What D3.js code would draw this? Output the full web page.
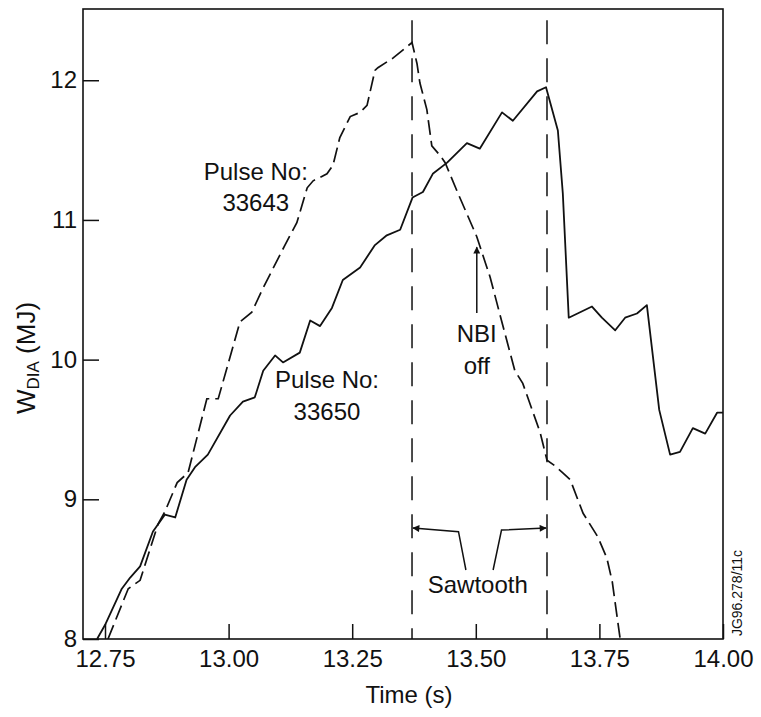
<!DOCTYPE html>
<html>
<head>
<meta charset="utf-8">
<script src="https://cdn.jsdelivr.net/npm/d3@7"></script>
<style>
  body { margin: 0; background: #fff; }
  svg text { font-family: "Liberation Sans", Arial, Helvetica, sans-serif; fill: #111; }
  .tick line { stroke: #111; stroke-width: 1.5; }
  .tick text { font-size: 24px; }
</style>
</head>
<body>
<div id="chart"></div>
<script>
// pulse 33650 (solid)
const t33650 = [12.734, 12.750, 12.784, 12.801, 12.821, 12.847, 12.861, 12.871, 12.892, 12.915,
    12.932, 12.958, 13.003, 13.029, 13.053, 13.070, 13.094, 13.110, 13.144, 13.165,
    13.185, 13.209, 13.231, 13.266, 13.296, 13.320, 13.347, 13.372, 13.393, 13.413,
    13.442, 13.482, 13.508, 13.553, 13.575, 13.624, 13.642, 13.666, 13.676, 13.688,
    13.735, 13.755, 13.782, 13.802, 13.826, 13.846, 13.871, 13.893, 13.913, 13.939,
    13.964, 13.988, 14.000]
const w33650 = [8.00, 8.10, 8.36, 8.44, 8.52, 8.77, 8.84, 8.89, 8.87, 9.14,
    9.23, 9.32, 9.60, 9.70, 9.73, 9.92, 10.03, 9.98, 10.05, 10.28,
    10.24, 10.37, 10.57, 10.66, 10.82, 10.89, 10.93, 11.16, 11.20, 11.33,
    11.41, 11.55, 11.51, 11.77, 11.71, 11.92, 11.95, 11.64, 11.19, 10.30,
    10.38, 10.30, 10.21, 10.30, 10.33, 10.39, 9.64, 9.32, 9.34, 9.51,
    9.47, 9.62, 9.62]

// pulse 33643 (dashed)
const t33643 = [12.756, 12.797, 12.821, 12.857, 12.871, 12.896, 12.918, 12.956, 12.979, 13.023,
    13.047, 13.068, 13.114, 13.138, 13.159, 13.171, 13.199, 13.211, 13.225, 13.246,
    13.266, 13.280, 13.296, 13.302, 13.333, 13.371, 13.381, 13.387, 13.401, 13.411,
    13.428, 13.438, 13.464, 13.502, 13.529, 13.549, 13.579, 13.595, 13.630, 13.644,
    13.660, 13.676, 13.691, 13.717, 13.747, 13.765, 13.776, 13.792]
const w33643 = [8.00, 8.36, 8.42, 8.82, 8.91, 9.12, 9.19, 9.72, 9.72, 10.27,
    10.34, 10.50, 10.82, 10.98, 11.23, 11.28, 11.33, 11.39, 11.59, 11.74,
    11.77, 11.82, 12.07, 12.09, 12.16, 12.27, 12.12, 11.98, 11.79, 11.53,
    11.46, 11.41, 11.19, 10.88, 10.59, 10.32, 9.92, 9.83, 9.48, 9.28,
    9.24, 9.19, 9.14, 8.90, 8.73, 8.58, 8.41, 8.00]

const xTicks = [12.75, 13.00, 13.25, 13.50, 13.75, 14.00]
const yTicks = [8, 9, 10, 11, 12]
const sawtoothTimes = [13.371, 13.644]

const WIDTH = 761, HEIGHT = 717
const M = { top: 9, right: 38, bottom: 78, left: 83 }
const innerW = WIDTH - M.left - M.right
const innerH = HEIGHT - M.top - M.bottom

const svg = d3.select('#chart').append('svg')
    .attr('width', WIDTH)
    .attr('height', HEIGHT)

const defs = svg.append('defs')
defs.append('clipPath').attr('id', 'plot-clip')
    .append('rect').attr('width', innerW).attr('height', innerH)
defs.append('marker')
    .attr('id', 'head')
    .attr('viewBox', '0 0 10 10')
    .attr('refX', 9).attr('refY', 5)
    .attr('markerWidth', 9).attr('markerHeight', 7)
    .attr('markerUnits', 'userSpaceOnUse')
    .attr('orient', 'auto')
    .append('path').attr('d', 'M0,0 L10,5 L0,10 Z').attr('fill', '#111')

const g = svg.append('g').attr('transform', `translate(${M.left},${M.top})`)

const x = d3.scaleLinear().domain([12.7055, 14.0]).range([0, innerW])
const y = d3.scaleLinear().domain([8, 12.51]).range([innerH, 0])

// axes, ticks point inward
g.append('g')
    .attr('transform', `translate(0,${innerH})`)
    .call(d3.axisBottom(x).tickValues(xTicks).tickFormat(d3.format('.2f'))
        .tickSizeInner(-15).tickSizeOuter(0).tickPadding(11))
    .call(a => a.select('.domain').remove())

g.append('g')
    .call(d3.axisLeft(y).tickValues(yTicks).tickFormat(d3.format('d'))
        .tickSizeInner(-16).tickSizeOuter(0).tickPadding(6))
    .call(a => a.select('.domain').remove())

g.append('rect')
    .attr('width', innerW).attr('height', innerH)
    .attr('fill', 'none').attr('stroke', '#111').attr('stroke-width', 1.6)

// sawtooth markers
g.selectAll('.saw-line')
    .data(sawtoothTimes)
    .join('line')
    .attr('class', 'saw-line')
    .attr('x1', d => x(d)).attr('x2', d => x(d))
    .attr('y1', y(12.43)).attr('y2', y(8))
    .attr('stroke', '#111').attr('stroke-width', 1.5)
    .attr('stroke-dasharray', '24,14')

const line = d3.line().x(d => x(d[0])).y(d => y(d[1]))
const plot = g.append('g').attr('clip-path', 'url(#plot-clip)')

plot.append('path')
    .datum(d3.zip(t33650, w33650))
    .attr('d', line)
    .attr('fill', 'none').attr('stroke', '#111').attr('stroke-width', 1.8)
    .attr('stroke-linejoin', 'round')

plot.append('path')
    .datum(d3.zip(t33643, w33643))
    .attr('d', line)
    .attr('fill', 'none').attr('stroke', '#111').attr('stroke-width', 1.7)
    .attr('stroke-dasharray', '15,6')

// annotations
const note = (t, v, txt, size = 24) => g.append('text')
    .attr('x', x(t)).attr('y', y(v))
    .attr('text-anchor', 'middle')
    .attr('font-size', size)
    .text(txt)

note(13.055, 11.284, 'Pulse No:')
note(13.055, 11.063, '33643')
note(13.199, 9.796, 'Pulse No:')
note(13.199, 9.567, '33650')
note(13.502, 10.125, 'NBI')
note(13.502, 9.896, 'off')
note(13.504, 8.329, 'Sawtooth')

g.append('line')
    .attr('x1', x(13.502)).attr('x2', x(13.502))
    .attr('y1', y(10.333)).attr('y2', y(10.805))
    .attr('stroke', '#111').attr('stroke-width', 1.5)
    .attr('marker-end', 'url(#head)')

const bracket = d3.line().x(d => x(d[0])).y(d => y(d[1]))
g.append('path')
    .attr('d', bracket([[13.480, 8.494], [13.465, 8.768], [13.373, 8.794]]))
    .attr('fill', 'none').attr('stroke', '#111').attr('stroke-width', 1.5)
    .attr('marker-end', 'url(#head)')
g.append('path')
    .attr('d', bracket([[13.535, 8.494], [13.552, 8.780], [13.642, 8.794]]))
    .attr('fill', 'none').attr('stroke', '#111').attr('stroke-width', 1.5)
    .attr('marker-end', 'url(#head)')

// axis labels
svg.append('text')
    .attr('x', M.left + x(13.365)).attr('y', 703)
    .attr('text-anchor', 'middle')
    .attr('font-size', 24)
    .text('Time (s)')

const yl = svg.append('text')
    .attr('transform', 'translate(35,358) rotate(-90)')
    .attr('text-anchor', 'middle')
    .attr('font-size', 26)
yl.append('tspan').text('W')
yl.append('tspan').attr('font-size', 17).attr('dy', 4).text('DIA')
yl.append('tspan').attr('dy', -4).text(' (MJ)')

svg.append('text')
    .attr('transform', 'translate(742,593) rotate(-90)')
    .attr('text-anchor', 'middle')
    .attr('font-size', 14)
    .text('JG96.278/11c')
</script>
</body>
</html>
